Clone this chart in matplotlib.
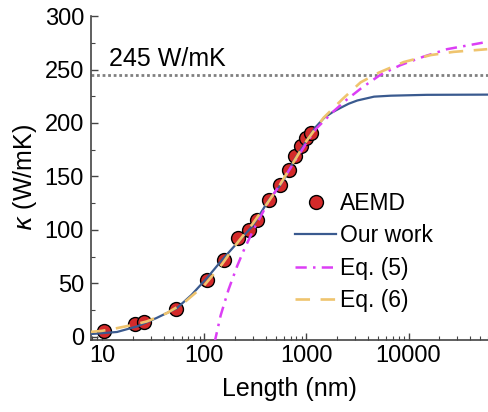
import matplotlib
matplotlib.use("Agg")
import matplotlib.pyplot as plt
from matplotlib.ticker import MultipleLocator, LogLocator, NullFormatter, FixedLocator

plt.rcParams['font.family'] = ['Liberation Sans', 'DejaVu Sans']

# AEMD points (length in nm, kappa in W/mK)
aemd_len = [10.5, 21, 26, 53, 107, 157, 213, 272, 328, 428, 548, 670, 770, 890, 1000, 1110]
aemd_kappa = [5, 12, 14, 26, 53, 72, 92, 100, 109, 128, 142, 156, 169, 178, 186, 191]

# "Our work" curve
ours_len = [7.8, 10, 14, 22, 34, 54, 75, 106, 150, 226, 300, 430, 550, 670, 780, 1000,
            1230, 1500, 1800, 2150, 2600, 3150, 4600, 6700, 15000, 60000]
ours_kappa = [2.5, 3.3, 4.4, 9.6, 17.4, 26.7, 39, 54.7, 72, 91, 104, 128, 141, 155, 167, 183,
              196, 205, 210, 214, 218, 221, 224.6, 225.5, 226.3, 226.5]

# Eq. (5)
eq5_len = [125, 128, 145, 173, 210, 247, 300, 430, 550, 780, 1000, 1230, 1850, 2500,
           3500, 5300, 8300, 14000, 23800, 60000]
eq5_kappa = [-6, -3, 20, 44, 66, 82, 99, 127, 142, 165, 181, 194, 211, 222,
             233, 245, 254, 262, 269, 276]

# Eq. (6)
eq6_len = [7.8, 10, 14, 20, 27.5, 43, 62, 100, 150, 200, 300, 430, 550, 780, 1000,
           1480, 2240, 3400, 5100, 9000, 16500, 27600, 59000]
eq6_kappa = [4.5, 5.5, 8, 11, 14.3, 22, 31, 48, 68, 85, 106, 127, 142, 166, 183,
             205, 222, 238, 247, 257, 263.5, 266.5, 269]

ref_kappa = 245
ref_label = '245 W/mK'

fig = plt.figure(figsize=(4.88, 4.12), dpi=100)
ax = fig.add_axes([0.1865, 0.175, 0.8135, 0.786])

ax.axhline(ref_kappa, color='#808080', lw=2, ls=(0, (1, 1)), zorder=1)
ax.text(11.8, 249, ref_label, fontsize=18, ha='left', va='bottom')

ax.plot(ours_len, ours_kappa, color='#3a5a8f', lw=1.6, label='Our work', zorder=3)
ax.plot(eq5_len, eq5_kappa, color='#dc3ef5', lw=1.8, dashes=(4.5, 2.5, 1, 2.5),
        label='Eq. (5)', zorder=4)
ax.plot(eq6_len, eq6_kappa, color='#efc46e', lw=1.9, dashes=(5.5, 4),
        label='Eq. (6)', zorder=4)
ax.plot(aemd_len, aemd_kappa, 'o', ms=10, mfc='#d42a2a', mec='black', mew=1,
        label='AEMD', zorder=2)

ax.set_xscale('log')
ax.set_xlim(7.8, 60000)
ax.set_ylim(-3, 300)

ax.yaxis.set_major_locator(MultipleLocator(50))
ax.yaxis.set_minor_locator(MultipleLocator(25))
ax.xaxis.set_major_locator(FixedLocator([10, 100, 1000, 10000]))
ax.xaxis.set_minor_locator(LogLocator(base=10, subs=range(2, 10)))
ax.xaxis.set_minor_formatter(NullFormatter())
ax.set_xticklabels(['10', '100', '1000', '10000'])

for s in ['top', 'right']:
    ax.spines[s].set_visible(False)
for s in ['left', 'bottom']:
    ax.spines[s].set_color('#444444')
    ax.spines[s].set_linewidth(1.2)

ax.tick_params(which='both', direction='in', colors='#444444', labelcolor='black',
               labelsize=17)
ax.tick_params(which='major', length=5, width=1)
ax.tick_params(which='minor', length=3, width=0.8)
ax.tick_params(axis='x', pad=4)
ax.tick_params(axis='y', pad=5)

ax.set_xlabel('Length (nm)', fontsize=18, labelpad=7)
ax.set_ylabel(r'$\kappa$ (W/mK)', fontsize=18, labelpad=4)

handles, labels = ax.get_legend_handles_labels()
order = [3, 0, 1, 2]
ax.legend([handles[i] for i in order], [labels[i] for i in order],
          loc='upper left', bbox_to_anchor=(0.515, 0.456), frameon=False,
          borderpad=0, borderaxespad=0, fontsize=16.5, handlelength=1.75,
          handletextpad=0.2, labelspacing=0.40)

fig.savefig('out.png', dpi=100)
